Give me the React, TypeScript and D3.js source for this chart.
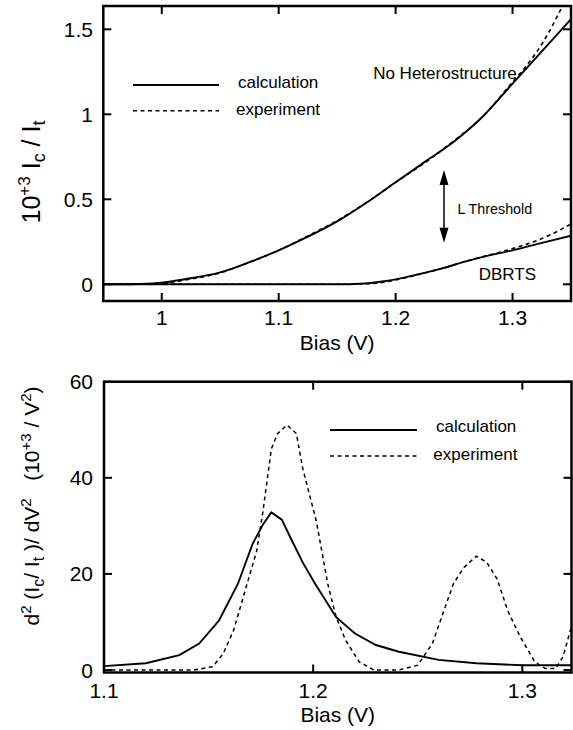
import React from "react";
import * as d3 from "d3";

// ---------- Top panel data ----------
const noHetCalcX = [0.95, 0.97, 0.98, 1.0, 1.02, 1.05, 1.075, 1.1, 1.125, 1.15, 1.175, 1.2, 1.225, 1.25, 1.275, 1.3, 1.325, 1.35];
const noHetCalcY = [0, 0, 0.002, 0.01, 0.03, 0.07, 0.13, 0.2, 0.28, 0.37, 0.48, 0.6, 0.72, 0.84, 0.99, 1.18, 1.37, 1.56];
const noHetExpX = [0.95, 0.98, 1.0, 1.02, 1.05, 1.075, 1.1, 1.125, 1.15, 1.175, 1.2, 1.225, 1.25, 1.275, 1.3, 1.31, 1.32, 1.33, 1.34, 1.35];
const noHetExpY = [0, 0, 0.006, 0.025, 0.068, 0.13, 0.2, 0.285, 0.375, 0.48, 0.6, 0.715, 0.845, 0.99, 1.19, 1.27, 1.36, 1.47, 1.6, 1.74];
const dbrtsCalcX = [0.95, 1.15, 1.17, 1.19, 1.2, 1.22, 1.24, 1.26, 1.28, 1.3, 1.32, 1.35];
const dbrtsCalcY = [0, 0, 0.003, 0.018, 0.029, 0.06, 0.094, 0.135, 0.17, 0.2, 0.235, 0.286];
const dbrtsExpX = [0.95, 1.15, 1.17, 1.19, 1.2, 1.22, 1.24, 1.26, 1.28, 1.3, 1.32, 1.335, 1.35];
const dbrtsExpY = [0, 0, 0.002, 0.012, 0.025, 0.058, 0.094, 0.135, 0.172, 0.21, 0.255, 0.3, 0.355];
const topXTicks = [1.0, 1.1, 1.2, 1.3];
const topXTickLabels = ["1", "1.1", "1.2", "1.3"];
const topYTicks = [0, 0.5, 1, 1.5];
const topYTickLabels = ["0", "0.5", "1", "1.5"];

// ---------- Bottom panel data ----------
const d2CalcX = [1.1, 1.12, 1.136, 1.1455, 1.155, 1.164, 1.171, 1.176, 1.18, 1.185, 1.19, 1.195, 1.201, 1.211, 1.22, 1.23, 1.241, 1.26, 1.278, 1.3, 1.324];
const d2CalcY = [0.8, 1.4, 3.1, 5.5, 10.3, 17.9, 26.2, 30.3, 32.8, 31.3, 26.8, 22.4, 17.9, 11, 7.6, 5.2, 3.8, 2.1, 1.4, 1.0, 1.0];
const d2ExpX = [1.1, 1.143, 1.152, 1.157, 1.162, 1.167, 1.173, 1.176, 1.18, 1.183, 1.1875, 1.192, 1.195, 1.2015, 1.207, 1.211, 1.2155, 1.222, 1.229, 1.241, 1.25, 1.257, 1.262, 1.267, 1.272, 1.278, 1.283, 1.288, 1.293, 1.299, 1.306, 1.311, 1.316, 1.3195, 1.323, 1.3245];
const d2ExpY = [0, 0, 0.7, 3.4, 8.3, 15.8, 24.8, 33, 46, 49.2, 51, 49.2, 42, 31, 17.9, 11, 6.2, 1.7, 0, 0, 1, 5.5, 11.7, 17.9, 21.3, 23.7, 22.4, 18.9, 12.4, 6.9, 1.7, 0.3, 0.3, 2.8, 8.3, 10.3];
const botXTicks = [1.1, 1.2, 1.3];
const botXTickLabels = ["1.1", "1.2", "1.3"];
const botYTicks = [0, 20, 40, 60];
const botYTickLabels = ["0", "20", "40", "60"];

const FONT = "'Liberation Sans', Arial, Helvetica, sans-serif";
const zip = (xs: number[], ys: number[]) => xs.map((x, i) => [x, ys[i]] as [number, number]);

export default function App() {
  // top panel scales
  const tx = d3.scaleLinear().domain([0.95, 1.35]).range([103.3, 571]);
  const ty = d3.scaleLinear().domain([0, 0.5]).range([284.3, 199.3]);
  const tTop = 6, tBot = 301;
  // bottom panel scales
  const bx = d3.scaleLinear().domain([1.1, 1.3]).range([104, 522.3]);
  const by = d3.scaleLinear().domain([0, 60]).range([670, 381.7]);
  const bTop = 381.7, bBot = 672.5, bLeft = 104, bRight = 571.5;

  const topLine = d3.line<[number, number]>().x(d => tx(d[0])).y(d => ty(d[1])).curve(d3.curveMonotoneX);
  const botLine = d3.line<[number, number]>().x(d => bx(d[0])).y(d => by(d[1]));

  const tickLen = 8;
  const dash = "4 3.5";

  const arrowX = tx(1.2414);
  const arrowY1 = ty(0.672);
  const arrowY2 = ty(0.245);

  return (
    <div style={{ position: "absolute", left: 0, top: 0 }}>
      <svg width={573} height={730} style={{ display: "block", background: "#fff" }} fontFamily={FONT}>
        <defs>
          <clipPath id="clipTop">
            <rect x={tx(0.95)} y={tTop} width={tx(1.35) - tx(0.95)} height={tBot - tTop} />
          </clipPath>
          <clipPath id="clipBot">
            <rect x={bLeft} y={bTop} width={bRight - bLeft} height={bBot - bTop} />
          </clipPath>
        </defs>

        {/* ===== TOP PANEL ===== */}
        <g clipPath="url(#clipTop)" fill="none" stroke="#000">
          <path d={topLine(zip(noHetExpX, noHetExpY)) || ""} strokeWidth={1.6} strokeDasharray={dash} />
          <path d={topLine(zip(dbrtsExpX, dbrtsExpY)) || ""} strokeWidth={1.6} strokeDasharray={dash} />
          <path d={topLine(zip(noHetCalcX, noHetCalcY)) || ""} strokeWidth={1.9} />
          <path d={topLine(zip(dbrtsCalcX, dbrtsCalcY)) || ""} strokeWidth={1.9} />
        </g>
        {/* ticks */}
        <g stroke="#000" strokeWidth={2}>
          {topXTicks.map((t, i) => (
            <g key={"tx" + i}>
              <line x1={tx(t)} x2={tx(t)} y1={tBot} y2={tBot - tickLen} />
              <line x1={tx(t)} x2={tx(t)} y1={tTop} y2={tTop + tickLen} />
            </g>
          ))}
          {topYTicks.map((t, i) => (
            <g key={"ty" + i}>
              <line x1={tx(0.95)} x2={tx(0.95) + tickLen} y1={ty(t)} y2={ty(t)} />
              <line x1={tx(1.35)} x2={tx(1.35) - tickLen} y1={ty(t)} y2={ty(t)} />
            </g>
          ))}
        </g>
        <rect x={tx(0.95)} y={tTop} width={tx(1.35) - tx(0.95)} height={tBot - tTop} fill="none" stroke="#000" strokeWidth={2.5} />
        {topXTicks.map((t, i) => (
          <text key={"txl" + i} x={tx(t)} y={317.5} textAnchor="middle" dominantBaseline="central" fontSize={21}>{topXTickLabels[i]}</text>
        ))}
        {topYTicks.map((t, i) => (
          <text key={"tyl" + i} x={93} y={ty(t)} textAnchor="end" dominantBaseline="central" fontSize={21}>{topYTickLabels[i]}</text>
        ))}
        <text x={(tx(0.95) + tx(1.35)) / 2} y={342} textAnchor="middle" dominantBaseline="central" fontSize={21}>Bias (V)</text>
        <text transform="translate(40,172) rotate(-90)" textAnchor="middle" fontSize={25} style={{ whiteSpace: "pre" }}>
          <tspan>10</tspan>
          <tspan fontSize={17} dy={-10}>+3</tspan>
          <tspan dy={10}> I</tspan>
          <tspan fontSize={18} dy={5}>c</tspan>
          <tspan dy={-5}> / I</tspan>
          <tspan fontSize={18} dy={5}>t</tspan>
        </text>

        {/* legend top */}
        <line x1={133} x2={219} y1={85} y2={85} stroke="#000" strokeWidth={1.8} />
        <line x1={133} x2={219} y1={110.7} y2={110.7} stroke="#000" strokeWidth={1.5} strokeDasharray={dash} />
        <text x={238} y={82.7} dominantBaseline="central" fontSize={17}>calculation</text>
        <text x={236} y={109} dominantBaseline="central" fontSize={17}>experiment</text>

        {/* annotations top */}
        <text x={tx(1.1808)} y={ty(1.241)} dominantBaseline="central" fontSize={17}>No Heterostructure</text>
        <text x={tx(1.2529)} y={ty(0.441)} dominantBaseline="central" fontSize={14.3}>L Threshold</text>
        <text x={tx(1.2711)} y={ty(0.06)} dominantBaseline="central" fontSize={17}>DBRTS</text>
        <line x1={arrowX} x2={arrowX} y1={arrowY1 + 10} y2={arrowY2 - 10} stroke="#000" strokeWidth={1.5} />
        <path d={`M${arrowX},${arrowY1} L${arrowX - 4.5},${arrowY1 + 15} L${arrowX + 4.5},${arrowY1 + 15} Z`} fill="#000" />
        <path d={`M${arrowX},${arrowY2} L${arrowX - 4.5},${arrowY2 - 15} L${arrowX + 4.5},${arrowY2 - 15} Z`} fill="#000" />

        {/* ===== BOTTOM PANEL ===== */}
        <g clipPath="url(#clipBot)" fill="none" stroke="#000">
          <path d={botLine(zip(d2ExpX, d2ExpY)) || ""} strokeWidth={1.5} strokeDasharray={dash} />
          <path d={botLine(zip(d2CalcX, d2CalcY)) || ""} strokeWidth={1.9} />
        </g>
        <g stroke="#000" strokeWidth={2}>
          {botXTicks.map((t, i) => (
            <g key={"bx" + i}>
              <line x1={bx(t)} x2={bx(t)} y1={bBot} y2={bBot - tickLen} />
              <line x1={bx(t)} x2={bx(t)} y1={bTop} y2={bTop + tickLen} />
            </g>
          ))}
          {botYTicks.map((t, i) => (
            <g key={"by" + i}>
              <line x1={bLeft} x2={bLeft + tickLen} y1={by(t)} y2={by(t)} />
              <line x1={bRight} x2={bRight - tickLen} y1={by(t)} y2={by(t)} />
            </g>
          ))}
        </g>
        <rect x={bLeft} y={bTop} width={bRight - bLeft} height={bBot - bTop} fill="none" stroke="#000" strokeWidth={2.5} />
        {botXTicks.map((t, i) => (
          <text key={"bxl" + i} x={bx(t)} y={690} textAnchor="middle" dominantBaseline="central" fontSize={21}>{botXTickLabels[i]}</text>
        ))}
        {botYTicks.map((t, i) => (
          <text key={"byl" + i} x={93} y={by(t)} textAnchor="end" dominantBaseline="central" fontSize={21}>{botYTickLabels[i]}</text>
        ))}
        <text x={(bLeft + bRight) / 2} y={714} textAnchor="middle" dominantBaseline="central" fontSize={21}>Bias (V)</text>
        <text transform="translate(39,506) rotate(-90)" textAnchor="middle" fontSize={21} style={{ whiteSpace: "pre" }}>
          <tspan>d</tspan>
          <tspan fontSize={15} dy={-8}>2</tspan>
          <tspan dy={8}> (I</tspan>
          <tspan fontSize={16} dy={5}>c</tspan>
          <tspan dy={-5}>/ I</tspan>
          <tspan fontSize={16} dy={5}>t</tspan>
          <tspan dy={-5}> )/ dV</tspan>
          <tspan fontSize={15} dy={-8}>2</tspan>
          <tspan dy={8}>   (10</tspan>
          <tspan fontSize={15} dy={-8}>+3</tspan>
          <tspan dy={8}> / V</tspan>
          <tspan fontSize={15} dy={-8}>2</tspan>
          <tspan dy={8}>)</tspan>
        </text>

        {/* legend bottom */}
        <line x1={330} x2={417} y1={430} y2={430} stroke="#000" strokeWidth={1.8} />
        <line x1={330} x2={417} y1={456} y2={456} stroke="#000" strokeWidth={1.5} strokeDasharray={dash} />
        <text x={436} y={426.7} dominantBaseline="central" fontSize={17}>calculation</text>
        <text x={433.3} y={454} dominantBaseline="central" fontSize={17}>experiment</text>
      </svg>
    </div>
  );
}
